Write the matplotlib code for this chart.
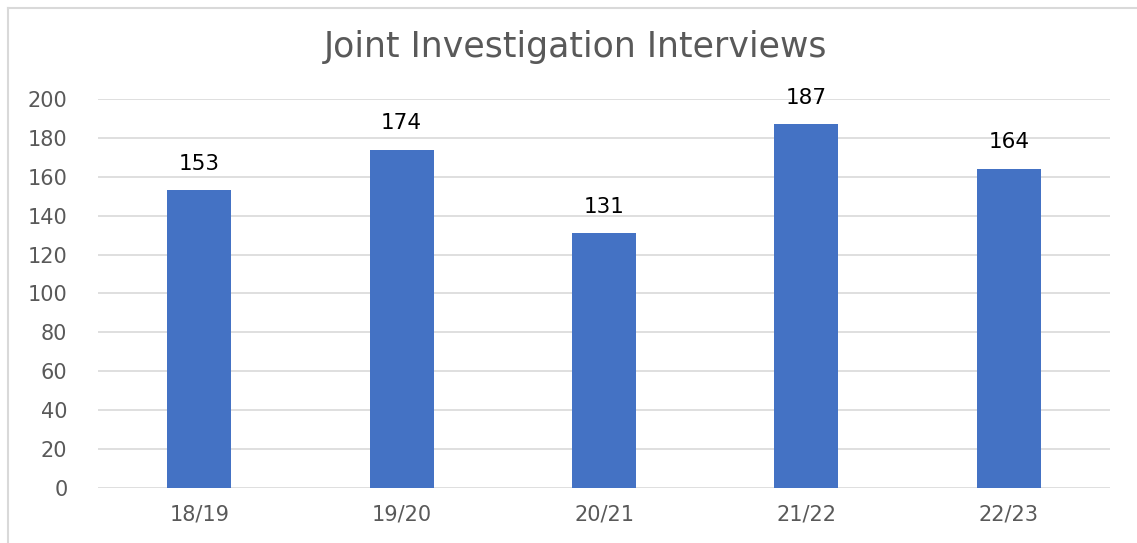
from matplotlib import pyplot as plt
from matplotlib.lines import Line2D

# data
years = ['18/19', '19/20', '20/21', '21/22', '22/23']
interviews = [153, 174, 131, 187, 164]
y_ticks = [0, 20, 40, 60, 80, 100, 120, 140, 160, 180, 200]

plt.rcParams['font.family'] = ['DejaVu Sans']

fig = plt.figure(figsize=(11.37, 5.43), dpi=100)
ax = fig.add_axes([0.0862, 0.1013, 0.8901, 0.7164])

bars = ax.bar(years, interviews, width=0.316, color='#4472C4', zorder=3)

for rect, v in zip(bars, interviews):
    ax.annotate(str(v), (rect.get_x() + rect.get_width() / 2, v),
                xytext=(0, 12), textcoords='offset points',
                ha='center', va='bottom', fontsize=15.5, color='#000000')

ax.set_xlim(-0.5, len(years) - 0.5)
ax.set_ylim(0, 200)
ax.set_yticks(y_ticks)
ax.yaxis.grid(True, color='#D9D9D9', linewidth=1.2, zorder=0)
ax.set_axisbelow(True)

for s in ax.spines.values():
    s.set_visible(False)
ax.tick_params(axis='both', length=0, labelsize=15, labelcolor='#595959')
ax.tick_params(axis='y', pad=22)
ax.tick_params(axis='x', pad=12)

fig.text(0.506, 0.913, 'Joint Investigation Interviews', ha='center', va='center',
         fontsize=25, color='#595959')

# chart border, only top and left show in the reference
border = dict(transform=fig.transFigure, color='#D9D9D9', linewidth=1.5)
fig.add_artist(Line2D([0.007, 1.0], [0.985, 0.985], **border))
fig.add_artist(Line2D([0.007, 0.007], [0.0, 0.985], **border))

fig.savefig('out.png', dpi=100)
